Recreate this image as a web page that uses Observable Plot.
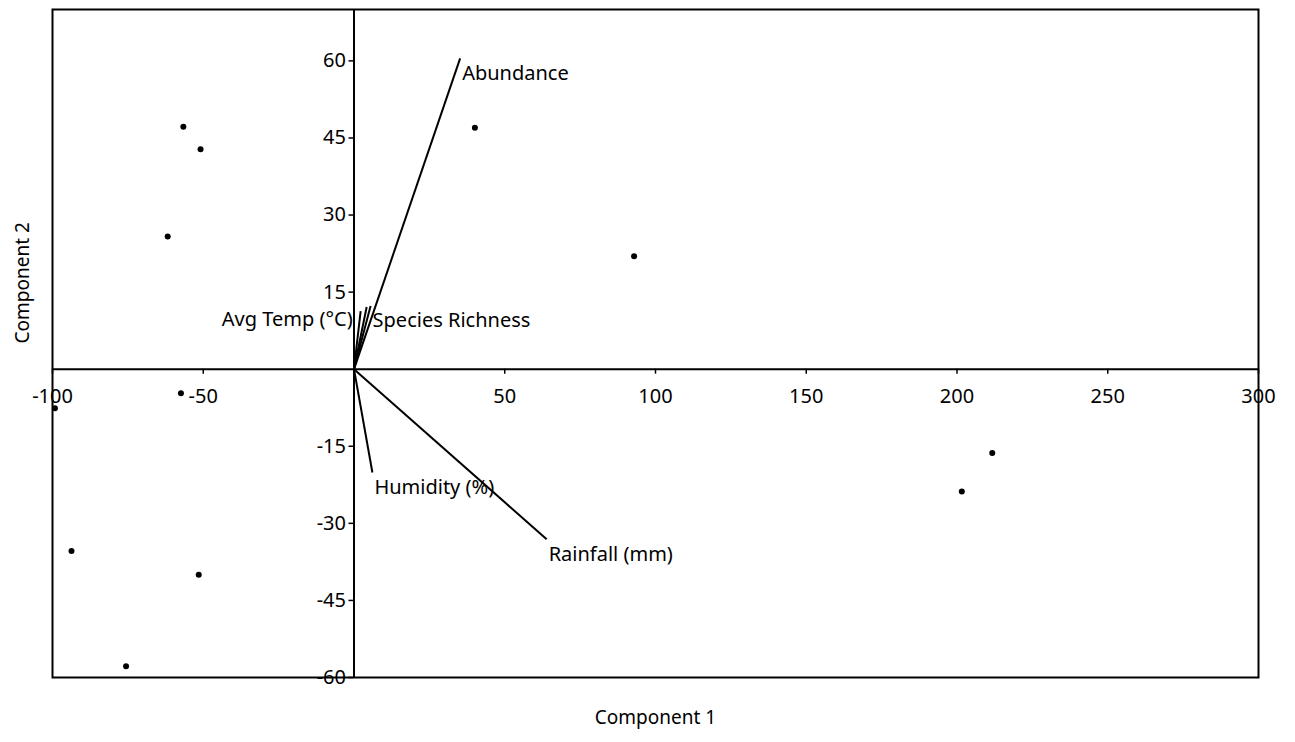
<!DOCTYPE html>
<html>
<head>
<meta charset="utf-8">
<script src="https://cdn.jsdelivr.net/npm/d3@7"></script>
<script src="https://cdn.jsdelivr.net/npm/@observablehq/plot@0.6"></script>
<style>
  html, body { margin: 0; padding: 0; background: #fff; }
  #chart svg { display: block; }
</style>
</head>
<body>
<div id="chart"></div>
<script>
// Sample scores
const scoreX = [-56.6, -50.9, -61.8, -57.4, -99.2, -93.7, -51.5, -75.6, 211.7, 201.6, 40.1, 92.9];
const scoreY = [47.2, 42.8, 25.8, -4.7, -7.6, -35.4, -40.0, -57.8, -16.3, -23.8, 47.0, 22.0];

// Variable loadings (vectors)
const loadingNames = ["Abundance", "Avg Temp (°C)", "", "Species Richness", "Humidity (%)", "Rainfall (mm)"];
const loadingX = [35.2, 2.2, 4.2, 5.5, 6.1, 63.9];
const loadingY = [60.5, 11.3, 12.1, 12.3, -20.1, -33.1];

// Tick values
const xTicks = [-100, -50, 50, 100, 150, 200, 250, 300];
const yTicks = [-60, -45, -30, -15, 15, 30, 45, 60];

const scores = scoreX.map((x, i) => ({x, y: scoreY[i]}));
const loadings = loadingNames.map((name, i) => ({name, x: loadingX[i], y: loadingY[i]}));

const font = "'Noto Sans', 'Open Sans', sans-serif";
const fs = 20;

const chart = Plot.plot({
  width: 1295,
  height: 742,
  marginLeft: 52,
  marginRight: 37,
  marginTop: 9,
  marginBottom: 65,
  style: {fontFamily: font, background: "#fff"},
  x: {domain: [-100, 300], axis: null},
  y: {domain: [-60, 70], axis: null},
  marks: [
    Plot.frame({stroke: "#000", strokeWidth: 2}),
    Plot.ruleX([0], {stroke: "#000", strokeWidth: 2}),
    Plot.ruleY([0], {stroke: "#000", strokeWidth: 2}),
    // x ticks on horizontal axis
    Plot.ruleX(xTicks, {x: d => d, y1: () => 0, y2: () => 0, insetBottom: -5, stroke: "#000", strokeWidth: 1.5}),
    Plot.text(xTicks, {x: d => d, y: () => 0, text: d => String(d), dy: 27, fontSize: fs, fill: "#000"}),
    // y ticks on vertical axis
    Plot.ruleY(yTicks, {y: d => d, x1: () => 0, x2: () => 0, insetLeft: -5, stroke: "#000", strokeWidth: 1.5}),
    Plot.text(yTicks, {x: () => 0, y: d => d, text: d => String(d), dx: -8, textAnchor: "end", fontSize: fs, fill: "#000"}),
    // loading vectors
    Plot.link(loadings, {x1: () => 0, y1: () => 0, x2: "x", y2: "y", stroke: "#000", strokeWidth: 2}),
    Plot.text(loadings.filter(d => d.name && d.name !== "Avg Temp (°C)"), {
      x: "x", y: "y", text: "name", textAnchor: "start", dx: 2, dy: 15, fontSize: fs, fill: "#000"
    }),
    Plot.text(loadings.filter(d => d.name === "Avg Temp (°C)"), {
      x: "x", y: "y", text: "name", textAnchor: "end", dx: -8, dy: 8, fontSize: fs, fill: "#000"
    }),
    // scores
    Plot.dot(scores, {x: "x", y: "y", r: 3, fill: "#000", stroke: "none"}),
    // axis titles
    Plot.text(["Component 1"], {frameAnchor: "bottom", dy: 46, text: d => d, fontSize: 19, fill: "#000"}),
    Plot.text(["Component 2"], {frameAnchor: "left", dx: -30, rotate: -90, text: d => d, fontSize: 19, fill: "#000"})
  ]
});

document.getElementById("chart").appendChild(chart);
</script>
</body>
</html>
